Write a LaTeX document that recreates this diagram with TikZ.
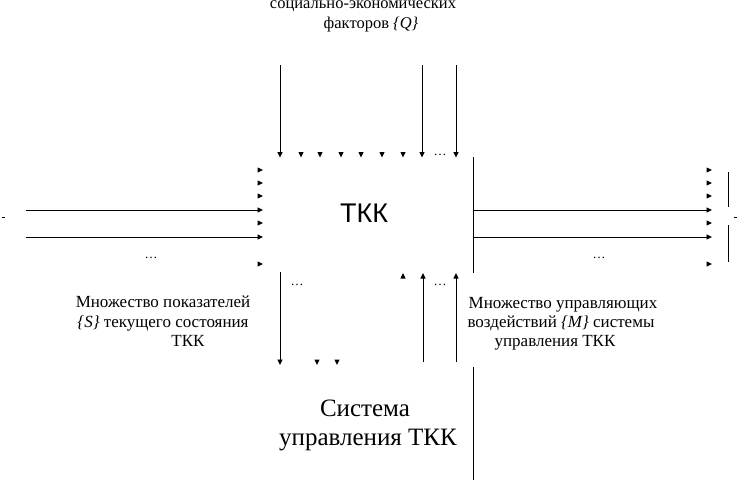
\documentclass[tikz,border=0pt]{standalone}
\usepackage{fontspec}
\setmainfont{Liberation Serif}
\newfontfamily\arialf{Liberation Sans}
\usetikzlibrary{arrows.meta}
\begin{document}
\begin{tikzpicture}[x=1pt,y=-1pt,line width=0.9pt,
  arr/.style={-{Triangle[length=5.5pt,width=5pt]}},
  txt/.style={inner sep=0pt,anchor=base,font=\fontsize{17}{20}\selectfont},
  toptxt/.style={inner sep=0pt,anchor=base,font=\fontsize{16.5}{20}\selectfont},
  big/.style={inner sep=0pt,anchor=base,font=\fontsize{25}{30}\selectfont},
  dots/.style={inner sep=0pt,anchor=base,font=\fontsize{13}{15}\selectfont},
  tipD/.pic={\fill (0,0) -- (-2.6,-5.5) -- (2.6,-5.5) -- cycle;},
  tipU/.pic={\fill (0,0) -- (-2.6,5.5) -- (2.6,5.5) -- cycle;},
  tipR/.pic={\fill (0,0) -- (-5.5,-2.6) -- (-5.5,2.6) -- cycle;}]
\useasboundingbox (0,0) rectangle (738,491);

% top text
\node[toptxt] (q1) at (363,8) {социально-экономических};
\node[toptxt] (q2) at (371,28) {факторов {\itshape\{Q\}}};

% centre
\node[inner sep=0pt,anchor=base,font=\arialf\fontsize{27}{30}\selectfont] (tkk) at (364,222) {ТКК};

% top arrows
\coordinate (t1s) at (280,65); \coordinate (t1e) at (280,157.5);
\coordinate (t2s) at (422,65); \coordinate (t2e) at (422,157.5);
\coordinate (t3s) at (456,65); \coordinate (t3e) at (456,157.5);
\draw[arr] (t1s) -- (t1e);
\draw[arr] (t2s) -- (t2e);
\draw[arr] (t3s) -- (t3e);
\foreach \x in {301,320,341,361,382,403} \pic at (\x,157.5) {tipD};
\node[dots] (dt) at (440,155) {\ldots};

% left input arrows
\coordinate (l1s) at (26,210); \coordinate (l1e) at (263,210);
\coordinate (l2s) at (26,237); \coordinate (l2e) at (263,237);
\draw[arr] (l1s) -- (l1e);
\draw[arr] (l2s) -- (l2e);
\foreach \y in {170,183,196,223,264} \pic at (263,\y) {tipR};
\node[dots] (dl) at (151,258) {\ldots};
\draw[line width=0.9pt] (1.5,217) -- (4.5,217);

% right output
\coordinate (rv1) at (473,157); \coordinate (rv2) at (473,273);
\draw (rv1) -- (rv2);
\coordinate (r1s) at (473,210); \coordinate (r1e) at (712,210);
\coordinate (r2s) at (473,237); \coordinate (r2e) at (712,237);
\draw[arr] (r1s) -- (r1e);
\draw[arr] (r2s) -- (r2e);
\foreach \y in {170,183,196,223,264} \pic at (712,\y) {tipR};
\node[dots] (dr) at (599,258) {\ldots};
\coordinate (b1a) at (728,172); \coordinate (b1b) at (728,207);
\coordinate (b2a) at (728,225); \coordinate (b2b) at (728,262);
\draw (b1a) -- (b1b);
\draw (b2a) -- (b2b);
\draw (734,217) -- (737,217);

% down arrows (state)
\coordinate (d1s) at (280,272); \coordinate (d1e) at (280,365);
\draw[arr] (d1s) -- (d1e);
\foreach \x in {317,337} \pic at (\x,365) {tipD};
\node[dots] (dd) at (297,285) {\ldots};

% up arrows (control)
\coordinate (u1s) at (423,362); \coordinate (u1e) at (423,273);
\coordinate (u2s) at (456,362); \coordinate (u2e) at (456,273);
\draw[arr] (u1s) -- (u1e);
\draw[arr] (u2s) -- (u2e);
\pic at (403,273) {tipU};
\node[dots] (du) at (440,285) {\ldots};

% lower vertical
\coordinate (lv1) at (473,367); \coordinate (lv2) at (473,480);
\draw (lv1) -- (lv2);

% labels
\node[txt] (s1) at (163,307) {Множество показателей};
\node[txt] (s2) at (163,327) {{\itshape\{S\}} текущего состояния};
\node[txt] (s3) at (188,346) {ТКК};
\node[txt] (m1) at (563,308) {Множество управляющих};
\node[txt] (m2) at (561,327) {воздействий {\itshape\{M\}} системы};
\node[txt] (m3) at (555,346) {управления ТКК};

% control system
\node[big] (cs1) at (365,416) {Система};
\node[big] (cs2) at (368,445) {управления ТКК};
\end{tikzpicture}
\end{document}
